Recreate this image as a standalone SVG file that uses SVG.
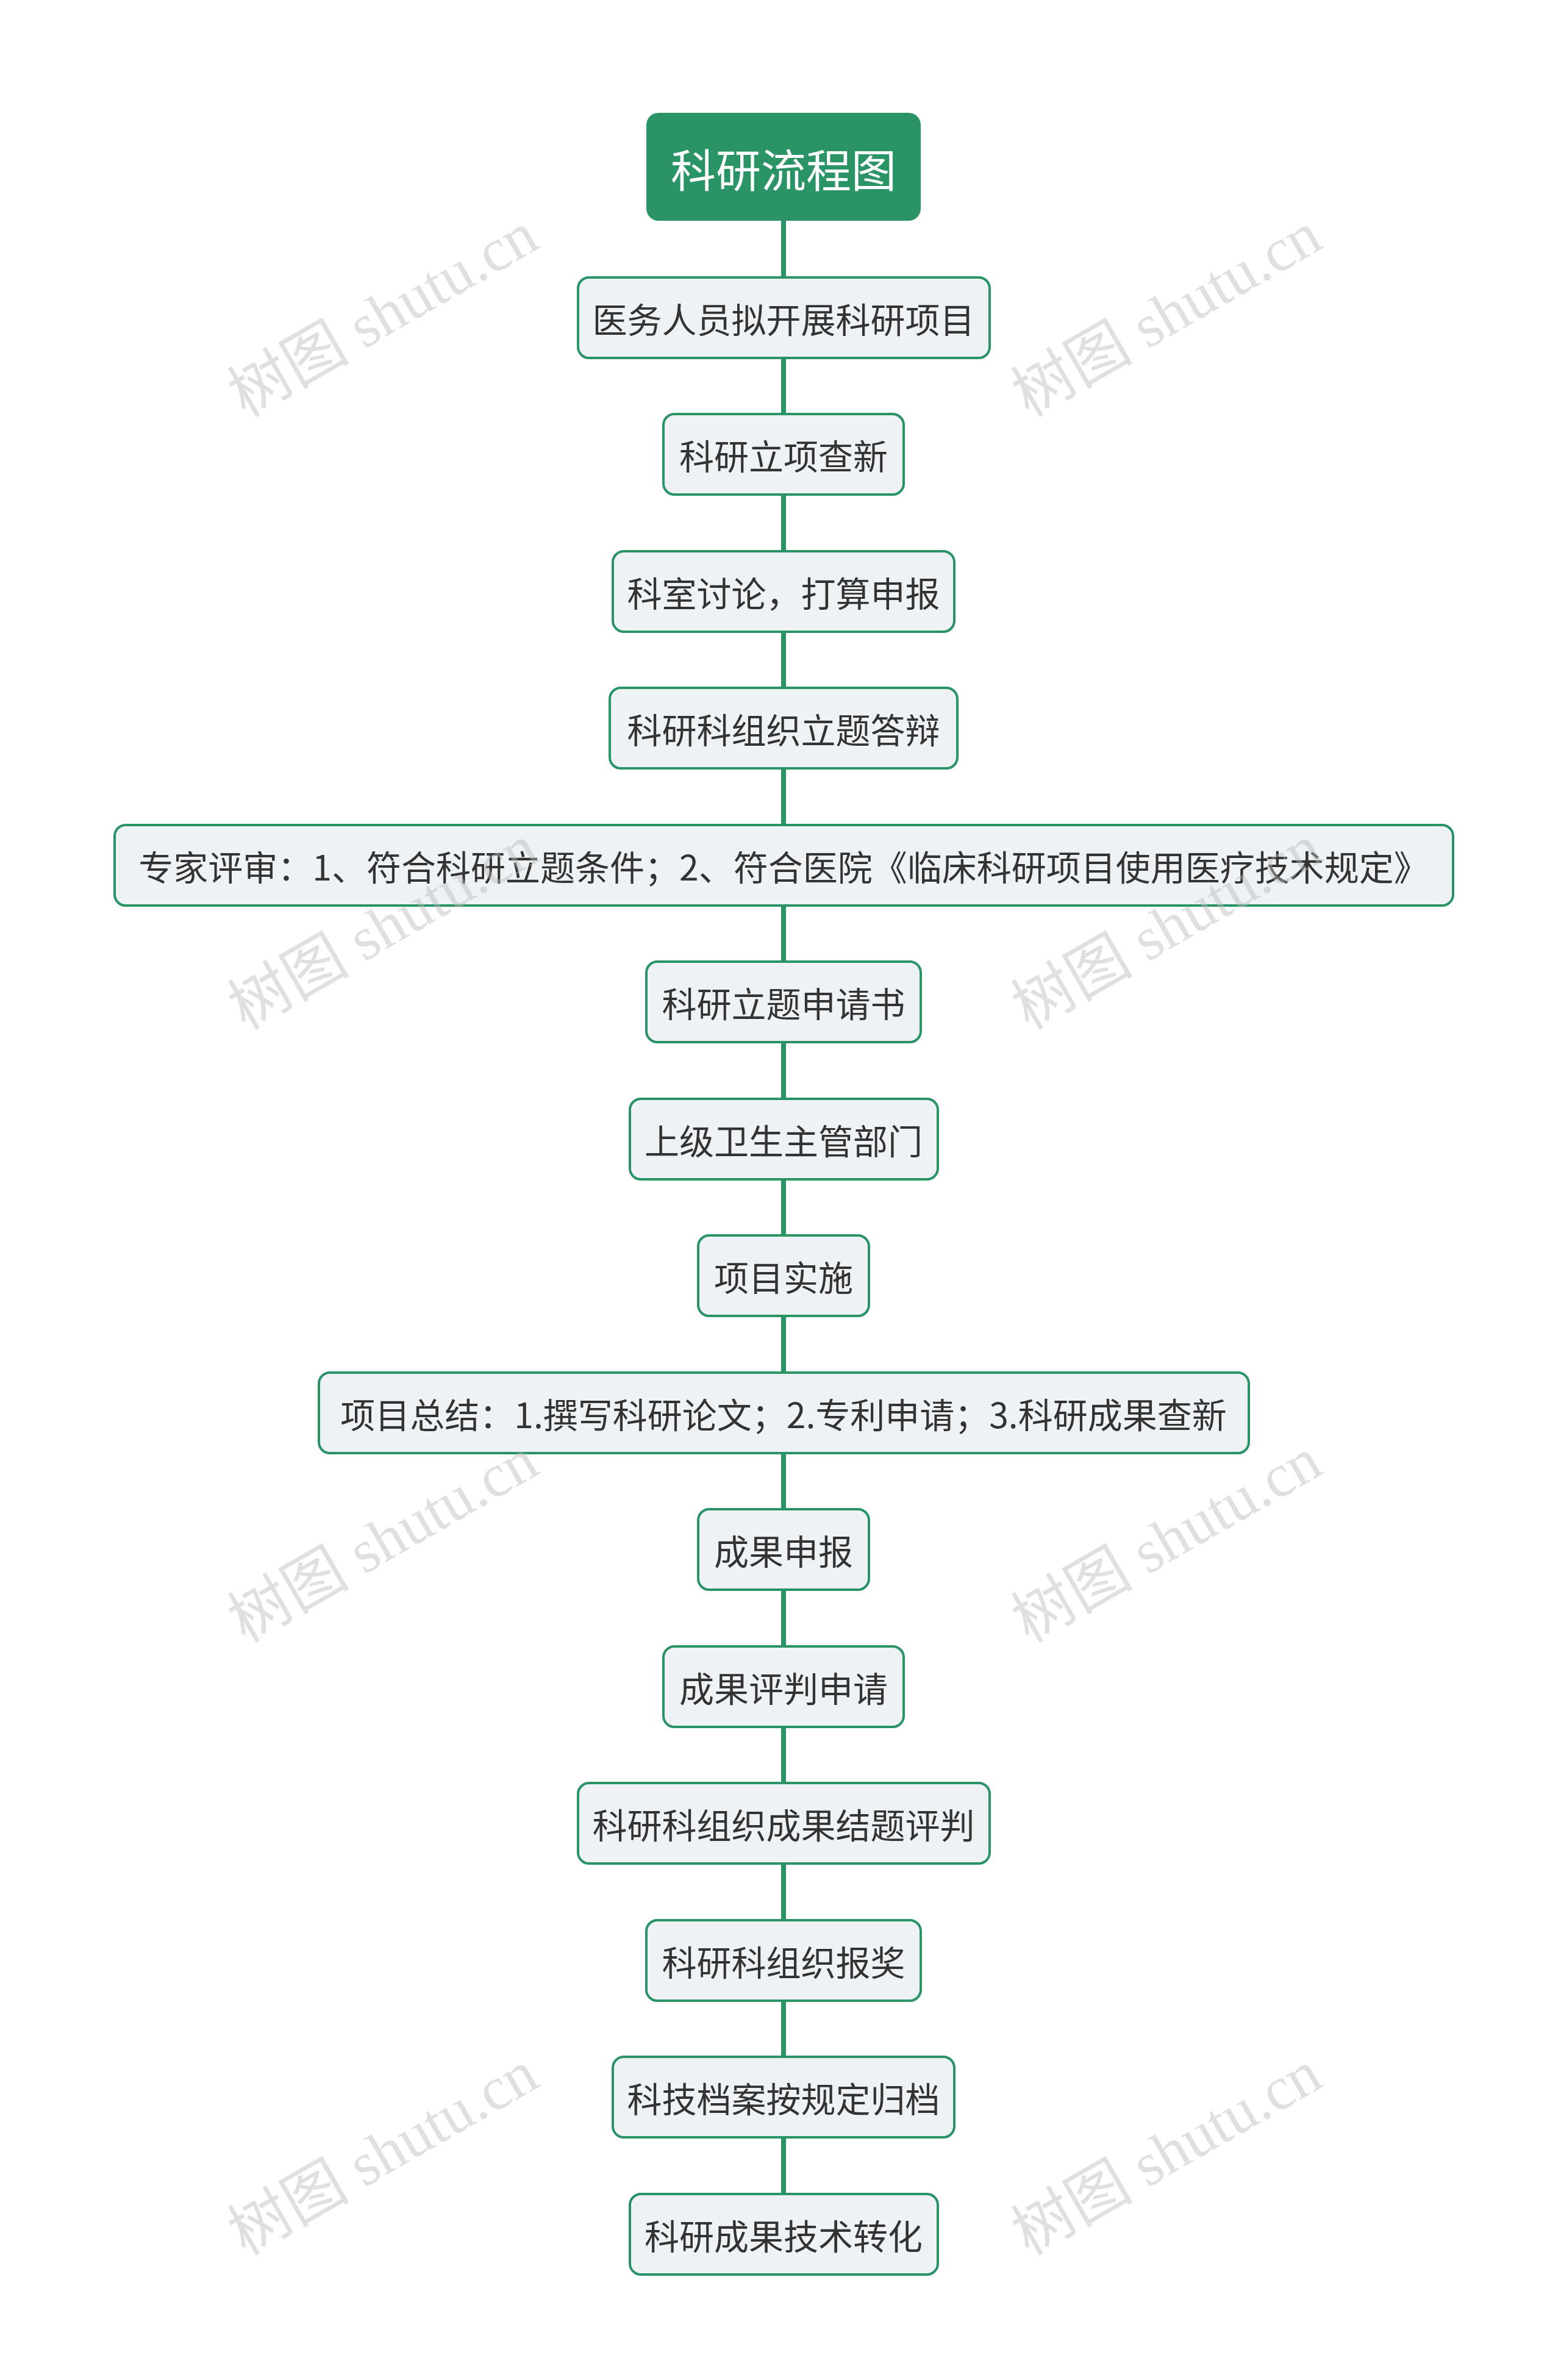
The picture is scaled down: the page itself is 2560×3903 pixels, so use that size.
<svg xmlns="http://www.w3.org/2000/svg" width="2560" height="3903" viewBox="0 0 2560 3903">
<style>
.n rect{fill:#eef2f5;stroke:#2a9466;stroke-width:4}
.n text{font-family:"Noto Sans CJK SC","Noto Sans",sans-serif;font-size:57px;fill:#333;text-anchor:middle;dominant-baseline:central}
.c line{stroke:#2a9466;stroke-width:8}
.wm{font-family:"Liberation Serif","Noto Sans CJK SC",serif;font-size:100px;fill:#bbb;opacity:0.45;text-anchor:middle}
</style>
<rect width="2560" height="3903" fill="#fff"/>
<g class="c">
<line x1="1285" y1="362" x2="1285" y2="3600"/>
</g>
<g id="root"><rect x="1060" y="185" width="450" height="177" rx="20" fill="#2a9466"/><text x="1285" y="274" font-family="Noto Sans CJK SC,sans-serif" font-size="74" fill="#fff" text-anchor="middle" dominant-baseline="central">科研流程图</text></g>
<g id="n1" class="n"><rect x="948" y="455" width="675" height="132" rx="18"/><text x="1285" y="521">医务人员拟开展科研项目</text></g>
<g id="n2" class="n"><rect x="1088" y="679" width="394" height="132" rx="18"/><text x="1285" y="745">科研立项查新</text></g>
<g id="n3" class="n"><rect x="1005" y="904" width="560" height="132" rx="18"/><text x="1285" y="970">科室讨论，打算申报</text></g>
<g id="n4" class="n"><rect x="1000" y="1128" width="570" height="132" rx="18"/><text x="1285" y="1194">科研科组织立题答辩</text></g>
<g id="n5" class="n"><rect x="188" y="1353" width="2195" height="132" rx="18"/><text x="1285" y="1419">专家评审：1、符合科研立题条件；2、符合医院《临床科研项目使用医疗技术规定》</text></g>
<g id="n6" class="n"><rect x="1060" y="1577" width="450" height="132" rx="18"/><text x="1285" y="1643">科研立题申请书</text></g>
<g id="n7" class="n"><rect x="1033" y="1802" width="505" height="132" rx="18"/><text x="1285" y="1868">上级卫生主管部门</text></g>
<g id="n8" class="n"><rect x="1145" y="2026" width="280" height="132" rx="18"/><text x="1285" y="2092">项目实施</text></g>
<g id="n9" class="n"><rect x="523" y="2251" width="1525" height="132" rx="18"/><text x="1285" y="2317">项目总结：1.撰写科研论文；2.专利申请；3.科研成果查新</text></g>
<g id="n10" class="n"><rect x="1145" y="2475" width="280" height="132" rx="18"/><text x="1285" y="2541">成果申报</text></g>
<g id="n11" class="n"><rect x="1088" y="2700" width="394" height="132" rx="18"/><text x="1285" y="2766">成果评判申请</text></g>
<g id="n12" class="n"><rect x="948" y="2924" width="675" height="132" rx="18"/><text x="1285" y="2990">科研科组织成果结题评判</text></g>
<g id="n13" class="n"><rect x="1060" y="3149" width="450" height="132" rx="18"/><text x="1285" y="3215">科研科组织报奖</text></g>
<g id="n14" class="n"><rect x="1005" y="3373" width="560" height="132" rx="18"/><text x="1285" y="3439">科技档案按规定归档</text></g>
<g id="n15" class="n"><rect x="1033" y="3598" width="505" height="132" rx="18"/><text x="1285" y="3664">科研成果技术转化</text></g>
<g>
<text class="wm" transform="translate(645,545) rotate(-30)">树图 shutu.cn</text>
<text class="wm" transform="translate(1930,545) rotate(-30)">树图 shutu.cn</text>
<text class="wm" transform="translate(645,1550) rotate(-30)">树图 shutu.cn</text>
<text class="wm" transform="translate(1930,1550) rotate(-30)">树图 shutu.cn</text>
<text class="wm" transform="translate(645,2555) rotate(-30)">树图 shutu.cn</text>
<text class="wm" transform="translate(1930,2555) rotate(-30)">树图 shutu.cn</text>
<text class="wm" transform="translate(645,3560) rotate(-30)">树图 shutu.cn</text>
<text class="wm" transform="translate(1930,3560) rotate(-30)">树图 shutu.cn</text>
</g>
</svg>
